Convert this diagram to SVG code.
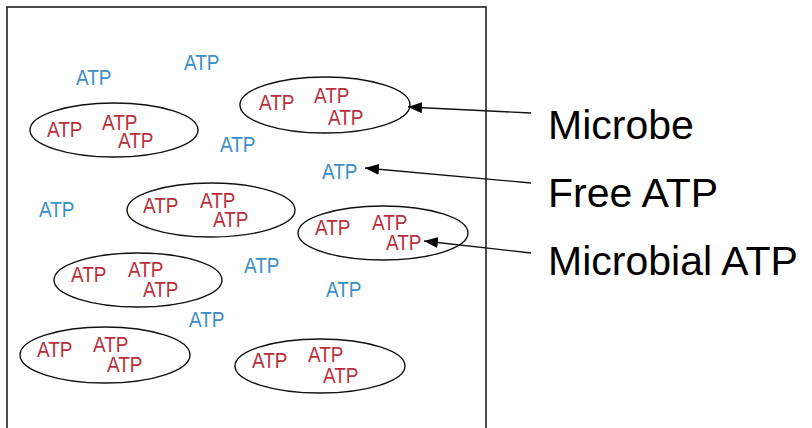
<svg xmlns="http://www.w3.org/2000/svg" width="812" height="428" viewBox="0 0 812 428">
<style>
.frame{fill:none;stroke:#111;stroke-width:1.5}
.cell{fill:none;stroke:#111;stroke-width:1.4}
.r{fill:#b8303c;font-family:"Liberation Sans",Arial,sans-serif;font-size:19px}
.b{fill:#3a8fc4;font-family:"Liberation Sans",Arial,sans-serif;font-size:19px}
.lbl{fill:#000;font-family:"Liberation Sans",Arial,sans-serif;font-size:41px}
.arr{stroke:#111;stroke-width:1.3;fill:none;marker-end:url(#ah)}
</style>
<defs>
<marker id="ah" viewBox="0 0 14 11" refX="14" refY="5.5" markerWidth="14" markerHeight="11" markerUnits="userSpaceOnUse" orient="auto">
<path d="M0,0 L14,5.5 L0,11 Z" fill="#000"/>
</marker>
</defs>
<rect width="812" height="428" fill="#fff"/>
<rect class="frame" x="7" y="7" width="479" height="430"/>

<g id="microbe1">
<ellipse class="cell" cx="325" cy="105" rx="85" ry="28"/>
<text class="r" transform="translate(259,110) scale(1,1.2)">ATP</text>
<text class="r" transform="translate(314,103) scale(1,1.2)">ATP</text>
<text class="r" transform="translate(328,125) scale(1,1.2)">ATP</text>
</g>
<g id="microbe2">
<ellipse class="cell" cx="114" cy="130" rx="84" ry="27"/>
<text class="r" transform="translate(47,137) scale(1,1.2)">ATP</text>
<text class="r" transform="translate(102,130) scale(1,1.2)">ATP</text>
<text class="r" transform="translate(118,148) scale(1,1.2)">ATP</text>
</g>
<g id="microbe3">
<ellipse class="cell" cx="211" cy="210" rx="84" ry="27"/>
<text class="r" transform="translate(143,213) scale(1,1.2)">ATP</text>
<text class="r" transform="translate(200,208) scale(1,1.2)">ATP</text>
<text class="r" transform="translate(213,227) scale(1,1.2)">ATP</text>
</g>
<g id="microbe4">
<ellipse class="cell" cx="383" cy="233" rx="85" ry="27"/>
<text class="r" transform="translate(315,235) scale(1,1.2)">ATP</text>
<text class="r" transform="translate(372,230) scale(1,1.2)">ATP</text>
<text class="r" transform="translate(386,250) scale(1,1.2)">ATP</text>
</g>
<g id="microbe5">
<ellipse class="cell" cx="138" cy="280" rx="84" ry="27"/>
<text class="r" transform="translate(71,282) scale(1,1.2)">ATP</text>
<text class="r" transform="translate(128,277) scale(1,1.2)">ATP</text>
<text class="r" transform="translate(143,297) scale(1,1.2)">ATP</text>
</g>
<g id="microbe6">
<ellipse class="cell" cx="105" cy="355" rx="85" ry="28"/>
<text class="r" transform="translate(37,357) scale(1,1.2)">ATP</text>
<text class="r" transform="translate(93,352) scale(1,1.2)">ATP</text>
<text class="r" transform="translate(107,372) scale(1,1.2)">ATP</text>
</g>
<g id="microbe7">
<ellipse class="cell" cx="320" cy="366" rx="85" ry="27"/>
<text class="r" transform="translate(252,368) scale(1,1.2)">ATP</text>
<text class="r" transform="translate(308,362) scale(1,1.2)">ATP</text>
<text class="r" transform="translate(323,383) scale(1,1.2)">ATP</text>
</g>

<g id="free-atp">
<text class="b" transform="translate(76,85) scale(1,1.2)">ATP</text>
<text class="b" transform="translate(184,70) scale(1,1.2)">ATP</text>
<text class="b" transform="translate(220,152) scale(1,1.2)">ATP</text>
<text class="b" transform="translate(322,179) scale(1,1.2)">ATP</text>
<text class="b" transform="translate(39,217) scale(1,1.2)">ATP</text>
<text class="b" transform="translate(244,273) scale(1,1.2)">ATP</text>
<text class="b" transform="translate(326,297) scale(1,1.2)">ATP</text>
<text class="b" transform="translate(189,327) scale(1,1.2)">ATP</text>
</g>

<g id="connectors">
<line class="arr" x1="531" y1="113" x2="408" y2="107"/>
<line class="arr" x1="531" y1="183" x2="365" y2="168"/>
<line class="arr" x1="531" y1="253" x2="424" y2="241"/>
</g>

<g id="labels">
<text class="lbl" x="548" y="139">Microbe</text>
<text class="lbl" x="548" y="207">Free ATP</text>
<text class="lbl" x="548" y="275">Microbial ATP</text>
</g>
</svg>
